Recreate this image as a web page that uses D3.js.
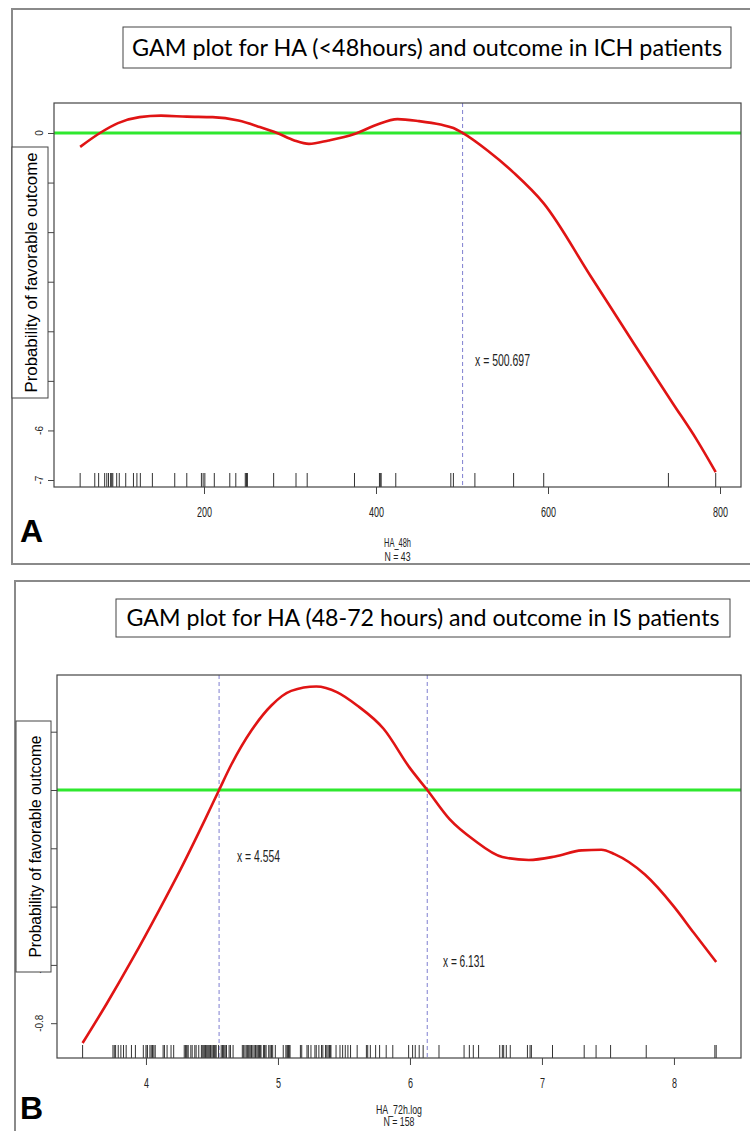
<!DOCTYPE html>
<html>
<head>
<meta charset="utf-8">
<script src="https://cdn.jsdelivr.net/npm/d3@7"></script>
<style>
  body { margin: 0; background: #fff; }
</style>
</head>
<body>
<div id="wrapper"></div>
<script>
// ---- panel A : HA < 48 hours, ICH ----
const titleA = "GAM plot for HA (<48hours) and outcome in ICH patients";
const xTicksA = [200, 400, 600, 800];
const yTicksA = [0, -1, -2, -3, -4, -5, -6, -7];
const curveXA = [56, 79, 100, 125, 150, 180, 210, 240, 265, 285, 305, 322, 345, 375, 400, 425, 450, 475, 490, 500.7, 530, 560, 595, 650, 700, 745, 773, 795];
const curveYA = [-0.28, 0, 0.20, 0.32, 0.35, 0.33, 0.32, 0.25, 0.12, 0, -0.15, -0.22, -0.15, -0.02, 0.16, 0.28, 0.24, 0.17, 0.10, 0, -0.36, -0.80, -1.42, -2.90, -4.25, -5.45, -6.19, -6.84];
const rugA = [56, 73, 77.5, 84.5, 87, 89, 91.5, 92, 93, 94, 98.5, 101.5, 109, 118, 122, 126, 140, 166, 180, 197, 199, 201, 212, 230, 237, 248, 249, 249.5, 250.5, 281, 307, 320, 375, 404, 405, 406, 423, 487, 490, 515, 560, 595, 740, 795];
const cutsA = [500.697];
const xNameA = ["HA_48h", "N = 43"];

// ---- panel B : HA 48-72 hours, IS ----
const titleB = "GAM plot for HA (48-72 hours) and outcome in IS patients";
const xTicksB = [4, 5, 6, 7, 8];
const yTicksB = [0.2, 0, -0.2, -0.4, -0.6, -0.8];
const curveXB = [3.52, 3.70, 3.90, 4.10, 4.26, 4.45, 4.554, 4.65, 4.80, 4.95, 5.10, 5.29, 5.45, 5.60, 5.80, 6.00, 6.131, 6.30, 6.48, 6.70, 6.90, 7.10, 7.30, 7.45, 7.55, 7.78, 8.00, 8.15, 8.32];
const curveYB = [-0.868, -0.735, -0.578, -0.412, -0.274, -0.099, 0, 0.09, 0.205, 0.29, 0.34, 0.355, 0.335, 0.29, 0.21, 0.075, 0, -0.10, -0.17, -0.23, -0.24, -0.228, -0.207, -0.205, -0.22, -0.29, -0.40, -0.49, -0.59];
const rugB = [3.52, 3.75, 3.76, 3.77, 3.79, 3.81, 3.83, 3.85, 3.89, 3.92, 3.98, 4.00, 4.01, 4.01, 4.03, 4.04, 4.05, 4.05, 4.06, 4.07, 4.13, 4.14, 4.16, 4.19, 4.21,
  4.29, 4.30, 4.31, 4.31, 4.32, 4.34, 4.35, 4.37, 4.38, 4.40, 4.42, 4.43, 4.44, 4.44, 4.45, 4.45, 4.46, 4.47, 4.47, 4.48, 4.49, 4.49, 4.50, 4.51, 4.51, 4.52, 4.53, 4.53,
  4.55, 4.57, 4.58, 4.59, 4.59, 4.60, 4.61, 4.61, 4.63, 4.64, 4.66, 4.73, 4.74, 4.75, 4.76, 4.77, 4.78, 4.78, 4.79, 4.80, 4.80, 4.81, 4.82, 4.83, 4.83, 4.84, 4.85, 4.85,
  4.86, 4.87, 4.87, 4.89, 4.90, 4.90, 4.91, 4.93, 4.94, 4.95, 4.95, 4.96, 4.98, 5.04, 5.06, 5.07, 5.07, 5.08, 5.09, 5.09, 5.17, 5.18, 5.22, 5.23, 5.25, 5.28, 5.29,
  5.31, 5.33, 5.34, 5.36, 5.37, 5.38, 5.39, 5.39, 5.40, 5.40, 5.44, 5.47, 5.49, 5.51, 5.53, 5.55, 5.60, 5.67, 5.68, 5.70, 5.74, 5.77, 5.82, 5.87, 5.99, 6.02, 6.04,
  6.07, 6.10, 6.22, 6.41, 6.45, 6.48, 6.52, 6.68, 6.70, 6.71, 6.73, 6.76, 6.89, 6.91, 6.92, 7.08, 7.32, 7.41, 7.52, 7.79, 8.31, 8.32];
const cutsB = [4.554, 6.131];
const xNameB = ["HA_72h.log", "N = 158"];

const yName = "Probability of favorable outcome";
const rFont = "'Liberation Sans Narrow', 'Liberation Sans', Arial, sans-serif";
const boxFont = "Lato, 'Open Sans', 'Liberation Sans', sans-serif";

const svg = d3.select("#wrapper").append("svg")
    .attr("width", 750)
    .attr("height", 1131)
    .style("display", "block");

function drawPanel(p) {
    const g = svg.append("g");

    const x = d3.scaleLinear().domain(p.xDomain).range([p.plot.left, p.plot.right]);
    const y = d3.scaleLinear().domain(p.yDomain).range([p.plot.bottom, p.plot.top]);

    // outer frame of the figure panel
    g.append("rect")
        .attr("x", p.outer.x).attr("y", p.outer.y)
        .attr("width", p.outer.w).attr("height", p.outer.h)
        .attr("fill", "none").attr("stroke", "#8a8a8a").attr("stroke-width", 2);

    // title box
    g.append("rect")
        .attr("x", p.titleBox.x).attr("y", p.titleBox.y)
        .attr("width", p.titleBox.w).attr("height", p.titleBox.h)
        .attr("fill", "#fff").attr("stroke", "#444").attr("stroke-width", 1);
    g.append("text")
        .attr("x", p.titleBox.x + p.titleBox.w / 2)
        .attr("y", p.titleBox.base)
        .attr("text-anchor", "middle")
        .attr("font-family", boxFont)
        .attr("font-size", 23)
        .attr("textLength", p.titleBox.len)
        .attr("lengthAdjust", "spacingAndGlyphs")
        .attr("fill", "#000")
        .text(p.title);

    // zero line
    g.append("line")
        .attr("x1", p.plot.left).attr("x2", p.plot.right)
        .attr("y1", y(0)).attr("y2", y(0))
        .attr("stroke", "#2ee82e").attr("stroke-width", 3);

    // cut points
    g.selectAll(".cut").data(p.cuts).join("line")
        .attr("x1", d => x(d)).attr("x2", d => x(d))
        .attr("y1", p.plot.top).attr("y2", p.plot.bottom)
        .attr("stroke", "#7f7fd0").attr("stroke-width", 1)
        .attr("stroke-dasharray", "4,3");

    // fitted smooth
    const line = d3.line()
        .x(d => x(d[0]))
        .y(d => y(d[1]))
        .curve(d3.curveMonotoneX);
    g.append("path")
        .attr("d", line(d3.zip(p.curveX, p.curveY)))
        .attr("fill", "none")
        .attr("stroke", "#e01414")
        .attr("stroke-width", 2.6);

    // rug
    g.selectAll(".rug").data(p.rug).join("line")
        .attr("x1", d => x(d)).attr("x2", d => x(d))
        .attr("y1", p.plot.bottom - p.rugH).attr("y2", p.plot.bottom)
        .attr("stroke", "#333").attr("stroke-width", 1);

    // plot box
    g.append("rect")
        .attr("x", p.plot.left).attr("y", p.plot.top)
        .attr("width", p.plot.right - p.plot.left)
        .attr("height", p.plot.bottom - p.plot.top)
        .attr("fill", "none").attr("stroke", "#444").attr("stroke-width", 1.2);

    // x axis
    const xAxis = d3.axisBottom(x).tickValues(p.xTicks).tickSize(7).tickPadding(13)
        .tickFormat(d => String(d));
    const gx = g.append("g")
        .attr("transform", `translate(0, ${p.plot.bottom})`)
        .call(xAxis);
    gx.select(".domain").remove();
    gx.selectAll(".tick line").attr("stroke", "#444");
    gx.selectAll(".tick text")
        .attr("font-family", rFont).attr("font-size", 14).attr("fill", "#222")
        .attr("textLength", d => 5 * String(d).length)
        .attr("lengthAdjust", "spacingAndGlyphs");

    // y axis ticks
    const yAxis = d3.axisLeft(y).tickValues(p.yTicks).tickSize(6).tickFormat("");
    const gy = g.append("g")
        .attr("transform", `translate(${p.plot.left}, 0)`)
        .call(yAxis);
    gy.select(".domain").remove();
    gy.selectAll(".tick line").attr("stroke", "#444");

    g.selectAll(".ylab").data(p.yTicks).join("text")
        .attr("transform", d => `translate(${p.yLabX}, ${y(d)}) rotate(-90)`)
        .attr("text-anchor", "middle")
        .attr("font-family", rFont).attr("font-size", 10).attr("fill", "#222")
        .text(p.yFormat);

    // y title box (covers the middle tick labels, as in the figure)
    g.append("rect")
        .attr("x", p.yBox.x).attr("y", p.yBox.y)
        .attr("width", p.yBox.w).attr("height", p.yBox.h)
        .attr("fill", "#fff").attr("stroke", "#444").attr("stroke-width", 1);
    g.append("text")
        .attr("transform", `translate(${p.yBox.tx}, ${p.yBox.y + p.yBox.h / 2}) rotate(-90)`)
        .attr("text-anchor", "middle")
        .attr("dominant-baseline", "central")
        .attr("font-family", "'Liberation Sans', Arial, sans-serif")
        .attr("font-size", 17)
        .attr("textLength", p.yBox.len)
        .attr("lengthAdjust", "spacingAndGlyphs")
        .attr("fill", "#000")
        .text(yName);

    // x title
    g.selectAll(".xname").data(p.xName).join("text")
        .attr("x", (p.plot.left + p.plot.right) / 2)
        .attr("y", (d, i) => p.xNameBase[i])
        .attr("text-anchor", "middle")
        .attr("font-family", rFont).attr("font-size", 12).attr("fill", "#222")
        .attr("textLength", (d, i) => p.xNameLen[i])
        .attr("lengthAdjust", "spacingAndGlyphs")
        .text(d => d);

    // cut labels
    g.selectAll(".cutlab").data(p.cuts).join("text")
        .attr("x", (d, i) => p.cutLab[i].x)
        .attr("y", (d, i) => p.cutLab[i].y)
        .attr("font-family", rFont).attr("font-size", 16).attr("fill", "#222")
        .attr("textLength", (d, i) => p.cutLab[i].len)
        .attr("lengthAdjust", "spacingAndGlyphs")
        .text(d => "x = " + d);

    // panel letter
    g.append("text")
        .attr("x", p.letter.x).attr("y", p.letter.y)
        .attr("font-family", "'Liberation Sans', Arial, sans-serif")
        .attr("font-weight", "bold")
        .attr("font-size", 32)
        .attr("fill", "#000")
        .text(p.letter.t);
}

drawPanel({
    title: titleA,
    xTicks: xTicksA, yTicks: yTicksA,
    curveX: curveXA, curveY: curveYA,
    rug: rugA, cuts: cutsA, xName: xNameA,
    yFormat: d => String(d),
    xDomain: [25.6, 824.4], yDomain: [-7.141, 0.605],
    outer: {x: 12, y: 9, w: 760, h: 555},
    titleBox: {x: 123, y: 27, w: 608, h: 41, base: 56, len: 590},
    plot: {left: 54, right: 741, top: 103, bottom: 487},
    rugH: 14,
    yLabX: 43,
    yBox: {x: 12, y: 147, w: 36, h: 251, tx: 31, len: 240},
    xNameBase: [547, 561], xNameLen: [27, 26],
    cutLab: [{x: 475, y: 366, len: 55}],
    letter: {t: "A", x: 20, y: 542}
});

drawPanel({
    title: titleB,
    xTicks: xTicksB, yTicks: yTicksB,
    curveX: curveXB, curveY: curveYB,
    rug: rugB, cuts: cutsB, xName: xNameB,
    yFormat: d => d.toFixed(1),
    xDomain: [3.326, 8.508], yDomain: [-0.9194, 0.3945],
    outer: {x: 15, y: 581, w: 760, h: 600},
    titleBox: {x: 116, y: 599, w: 614, h: 38, base: 626, len: 593},
    plot: {left: 57, right: 741, top: 675, bottom: 1058},
    rugH: 13,
    yLabX: 43,
    yBox: {x: 16, y: 721, w: 35, h: 251, tx: 35, len: 222},
    xNameBase: [1114, 1126], xNameLen: [46, 31],
    cutLab: [{x: 237, y: 862, len: 43}, {x: 443, y: 967, len: 42}],
    letter: {t: "B", x: 20, y: 1119}
});
</script>
</body>
</html>
